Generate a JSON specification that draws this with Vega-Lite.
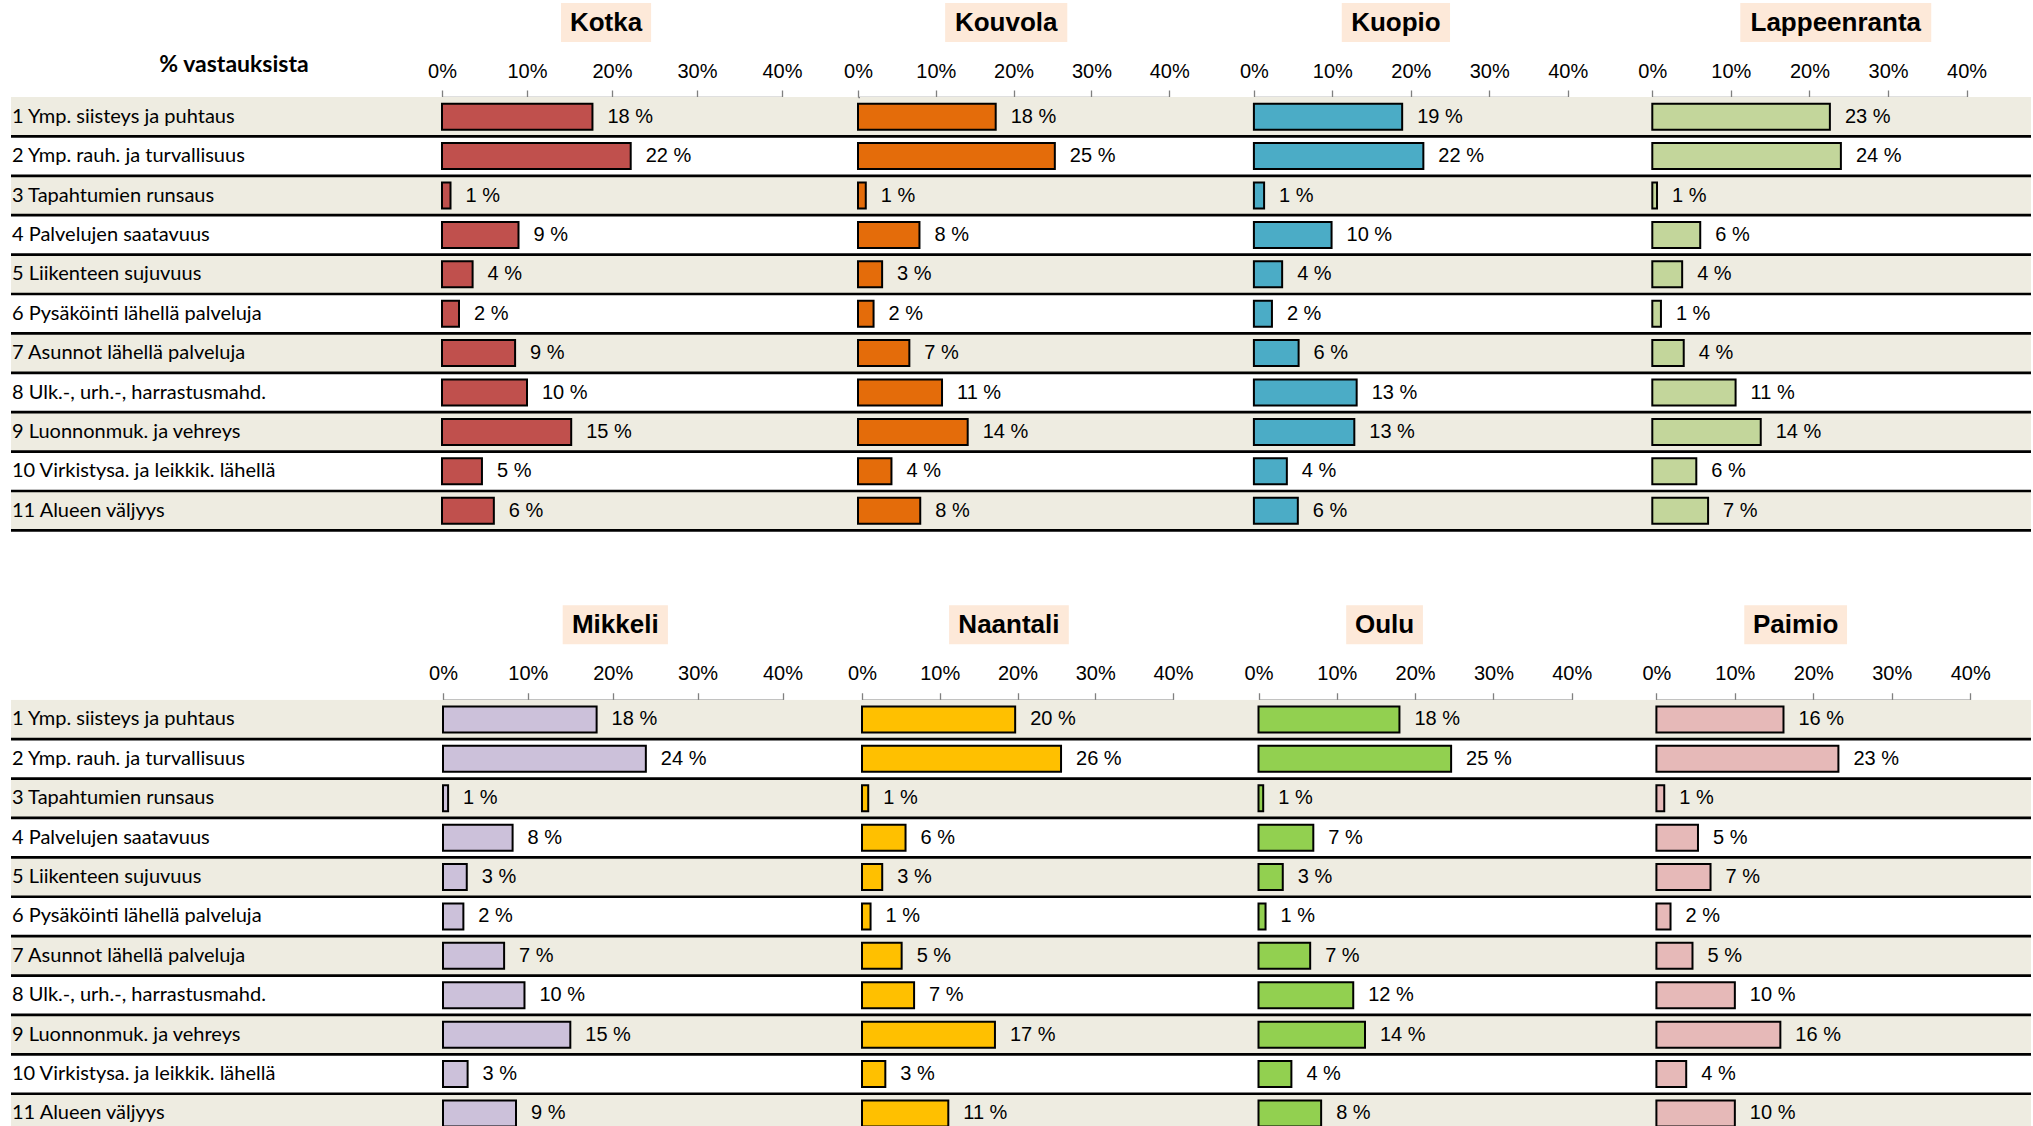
{
 "$schema": "https://vega.github.io/schema/vega-lite/v6.json",
 "background": "white",
 "padding": {"left": 9, "top": 3, "right": 4, "bottom": 0},
 "config": {
  "view": {"stroke": null},
  "axisX": {"labelFont": "Liberation Sans", "labelFontSize": 20, "labelColor": "black", "labelFlush": false, "labelOverlap": false, "labelPadding": 9, "tickSize": 7, "tickColor": "#808080", "domainColor": "#808080", "tickWidth": 1.3, "domainWidth": 1.3, "grid": false, "labelExpr": "datum.value + '%'"}
 },
 "datasets": {
  "rows": [
   {"k": "Kotka", "kohde": "1 Ymp. siisteys ja puhtaus", "v": 17.7},
   {"k": "Kotka", "kohde": "2 Ymp. rauh. ja turvallisuus", "v": 22.2},
   {"k": "Kotka", "kohde": "3 Tapahtumien runsaus", "v": 1.0},
   {"k": "Kotka", "kohde": "4 Palvelujen saatavuus", "v": 9.0},
   {"k": "Kotka", "kohde": "5 Liikenteen sujuvuus", "v": 3.6},
   {"k": "Kotka", "kohde": "6 Pysäköinti lähellä palveluja", "v": 2.0},
   {"k": "Kotka", "kohde": "7 Asunnot lähellä palveluja", "v": 8.6},
   {"k": "Kotka", "kohde": "8 Ulk.-, urh.-, harrastusmahd.", "v": 10.0},
   {"k": "Kotka", "kohde": "9 Luonnonmuk. ja vehreys", "v": 15.2},
   {"k": "Kotka", "kohde": "10 Virkistysa. ja leikkik. lähellä", "v": 4.7},
   {"k": "Kotka", "kohde": "11 Alueen väljyys", "v": 6.1},
   {"k": "Kouvola", "kohde": "1 Ymp. siisteys ja puhtaus", "v": 17.7},
   {"k": "Kouvola", "kohde": "2 Ymp. rauh. ja turvallisuus", "v": 25.3},
   {"k": "Kouvola", "kohde": "3 Tapahtumien runsaus", "v": 1.0},
   {"k": "Kouvola", "kohde": "4 Palvelujen saatavuus", "v": 7.9},
   {"k": "Kouvola", "kohde": "5 Liikenteen sujuvuus", "v": 3.1},
   {"k": "Kouvola", "kohde": "6 Pysäköinti lähellä palveluja", "v": 2.0},
   {"k": "Kouvola", "kohde": "7 Asunnot lähellä palveluja", "v": 6.6},
   {"k": "Kouvola", "kohde": "8 Ulk.-, urh.-, harrastusmahd.", "v": 10.8},
   {"k": "Kouvola", "kohde": "9 Luonnonmuk. ja vehreys", "v": 14.1},
   {"k": "Kouvola", "kohde": "10 Virkistysa. ja leikkik. lähellä", "v": 4.3},
   {"k": "Kouvola", "kohde": "11 Alueen väljyys", "v": 8.0},
   {"k": "Kuopio", "kohde": "1 Ymp. siisteys ja puhtaus", "v": 18.9},
   {"k": "Kuopio", "kohde": "2 Ymp. rauh. ja turvallisuus", "v": 21.6},
   {"k": "Kuopio", "kohde": "3 Tapahtumien runsaus", "v": 1.3},
   {"k": "Kuopio", "kohde": "4 Palvelujen saatavuus", "v": 9.9},
   {"k": "Kuopio", "kohde": "5 Liikenteen sujuvuus", "v": 3.6},
   {"k": "Kuopio", "kohde": "6 Pysäköinti lähellä palveluja", "v": 2.3},
   {"k": "Kuopio", "kohde": "7 Asunnot lähellä palveluja", "v": 5.7},
   {"k": "Kuopio", "kohde": "8 Ulk.-, urh.-, harrastusmahd.", "v": 13.1},
   {"k": "Kuopio", "kohde": "9 Luonnonmuk. ja vehreys", "v": 12.8},
   {"k": "Kuopio", "kohde": "10 Virkistysa. ja leikkik. lähellä", "v": 4.2},
   {"k": "Kuopio", "kohde": "11 Alueen väljyys", "v": 5.6},
   {"k": "Lappeenranta", "kohde": "1 Ymp. siisteys ja puhtaus", "v": 22.6},
   {"k": "Lappeenranta", "kohde": "2 Ymp. rauh. ja turvallisuus", "v": 24.0},
   {"k": "Lappeenranta", "kohde": "3 Tapahtumien runsaus", "v": 0.6},
   {"k": "Lappeenranta", "kohde": "4 Palvelujen saatavuus", "v": 6.1},
   {"k": "Lappeenranta", "kohde": "5 Liikenteen sujuvuus", "v": 3.8},
   {"k": "Lappeenranta", "kohde": "6 Pysäköinti lähellä palveluja", "v": 1.1},
   {"k": "Lappeenranta", "kohde": "7 Asunnot lähellä palveluja", "v": 4.0},
   {"k": "Lappeenranta", "kohde": "8 Ulk.-, urh.-, harrastusmahd.", "v": 10.6},
   {"k": "Lappeenranta", "kohde": "9 Luonnonmuk. ja vehreys", "v": 13.8},
   {"k": "Lappeenranta", "kohde": "10 Virkistysa. ja leikkik. lähellä", "v": 5.6},
   {"k": "Lappeenranta", "kohde": "11 Alueen väljyys", "v": 7.1},
   {"k": "Mikkeli", "kohde": "1 Ymp. siisteys ja puhtaus", "v": 18.1},
   {"k": "Mikkeli", "kohde": "2 Ymp. rauh. ja turvallisuus", "v": 23.9},
   {"k": "Mikkeli", "kohde": "3 Tapahtumien runsaus", "v": 0.6},
   {"k": "Mikkeli", "kohde": "4 Palvelujen saatavuus", "v": 8.2},
   {"k": "Mikkeli", "kohde": "5 Liikenteen sujuvuus", "v": 2.8},
   {"k": "Mikkeli", "kohde": "6 Pysäköinti lähellä palveluja", "v": 2.4},
   {"k": "Mikkeli", "kohde": "7 Asunnot lähellä palveluja", "v": 7.2},
   {"k": "Mikkeli", "kohde": "8 Ulk.-, urh.-, harrastusmahd.", "v": 9.6},
   {"k": "Mikkeli", "kohde": "9 Luonnonmuk. ja vehreys", "v": 15.0},
   {"k": "Mikkeli", "kohde": "10 Virkistysa. ja leikkik. lähellä", "v": 2.9},
   {"k": "Mikkeli", "kohde": "11 Alueen väljyys", "v": 8.6},
   {"k": "Naantali", "kohde": "1 Ymp. siisteys ja puhtaus", "v": 19.7},
   {"k": "Naantali", "kohde": "2 Ymp. rauh. ja turvallisuus", "v": 25.6},
   {"k": "Naantali", "kohde": "3 Tapahtumien runsaus", "v": 0.8},
   {"k": "Naantali", "kohde": "4 Palvelujen saatavuus", "v": 5.6},
   {"k": "Naantali", "kohde": "5 Liikenteen sujuvuus", "v": 2.6},
   {"k": "Naantali", "kohde": "6 Pysäköinti lähellä palveluja", "v": 1.1},
   {"k": "Naantali", "kohde": "7 Asunnot lähellä palveluja", "v": 5.1},
   {"k": "Naantali", "kohde": "8 Ulk.-, urh.-, harrastusmahd.", "v": 6.7},
   {"k": "Naantali", "kohde": "9 Luonnonmuk. ja vehreys", "v": 17.1},
   {"k": "Naantali", "kohde": "10 Virkistysa. ja leikkik. lähellä", "v": 3.0},
   {"k": "Naantali", "kohde": "11 Alueen väljyys", "v": 11.1},
   {"k": "Oulu", "kohde": "1 Ymp. siisteys ja puhtaus", "v": 18.0},
   {"k": "Oulu", "kohde": "2 Ymp. rauh. ja turvallisuus", "v": 24.6},
   {"k": "Oulu", "kohde": "3 Tapahtumien runsaus", "v": 0.6},
   {"k": "Oulu", "kohde": "4 Palvelujen saatavuus", "v": 7.0},
   {"k": "Oulu", "kohde": "5 Liikenteen sujuvuus", "v": 3.1},
   {"k": "Oulu", "kohde": "6 Pysäköinti lähellä palveluja", "v": 0.9},
   {"k": "Oulu", "kohde": "7 Asunnot lähellä palveluja", "v": 6.6},
   {"k": "Oulu", "kohde": "8 Ulk.-, urh.-, harrastusmahd.", "v": 12.1},
   {"k": "Oulu", "kohde": "9 Luonnonmuk. ja vehreys", "v": 13.6},
   {"k": "Oulu", "kohde": "10 Virkistysa. ja leikkik. lähellä", "v": 4.2},
   {"k": "Oulu", "kohde": "11 Alueen väljyys", "v": 8.0},
   {"k": "Paimio", "kohde": "1 Ymp. siisteys ja puhtaus", "v": 16.2},
   {"k": "Paimio", "kohde": "2 Ymp. rauh. ja turvallisuus", "v": 23.2},
   {"k": "Paimio", "kohde": "3 Tapahtumien runsaus", "v": 1.0},
   {"k": "Paimio", "kohde": "4 Palvelujen saatavuus", "v": 5.3},
   {"k": "Paimio", "kohde": "5 Liikenteen sujuvuus", "v": 6.9},
   {"k": "Paimio", "kohde": "6 Pysäköinti lähellä palveluja", "v": 1.8},
   {"k": "Paimio", "kohde": "7 Asunnot lähellä palveluja", "v": 4.6},
   {"k": "Paimio", "kohde": "8 Ulk.-, urh.-, harrastusmahd.", "v": 10.0},
   {"k": "Paimio", "kohde": "9 Luonnonmuk. ja vehreys", "v": 15.8},
   {"k": "Paimio", "kohde": "10 Virkistysa. ja leikkik. lähellä", "v": 3.8},
   {"k": "Paimio", "kohde": "11 Alueen väljyys", "v": 10.0}
  ]
 },
 "vconcat": [
  {
   "columns": 5, "spacing": {"row": 55, "column": 0}, "bounds": "flush", "align": "each",
   "concat": [
    {"width": 341, "height": 39, "data": {"values": [{"t": "% vastauksista"}]}, "mark": {"type": "text", "font": "Lato", "fontSize": 23, "fontWeight": "bold", "fill": "black", "dx": 52.5, "dy": 42.5}, "encoding": {"text": {"field": "t", "type": "nominal"}}},
    {"width": 508, "height": 39, "data": {"values": [{"k": "Kotka"}]}, "layer": [
      {"mark": {"type": "rect", "fill": "#FDE9D9"}, "encoding": {"x": {"datum": 14.0, "type": "quantitative", "scale": {"domain": [0, 40], "range": [90, 430]}, "axis": null}, "x2": {"datum": 24.6}}},
      {"mark": {"type": "text", "font": "Liberation Sans", "fontSize": 26, "fontWeight": "bold", "fill": "black"}, "encoding": {"x": {"datum": 19.3, "type": "quantitative"}, "text": {"field": "k", "type": "nominal"}}}
    ]},
    {"width": 292, "height": 39, "data": {"values": [{"k": "Kouvola"}]}, "layer": [
      {"mark": {"type": "rect", "fill": "#FDE9D9"}, "encoding": {"x": {"datum": 11.2, "type": "quantitative", "scale": {"domain": [0, 40], "range": [-2, 309.2]}, "axis": null}, "x2": {"datum": 26.9}}},
      {"mark": {"type": "text", "font": "Liberation Sans", "fontSize": 26, "fontWeight": "bold", "fill": "black"}, "encoding": {"x": {"datum": 19.05, "type": "quantitative"}, "text": {"field": "k", "type": "nominal"}}}
    ]},
    {"width": 488, "height": 39, "data": {"values": [{"k": "Kuopio"}]}, "layer": [
      {"mark": {"type": "rect", "fill": "#FDE9D9"}, "encoding": {"x": {"datum": 11.2, "type": "quantitative", "scale": {"domain": [0, 40], "range": [101.9, 415.7]}, "axis": null}, "x2": {"datum": 25.0}}},
      {"mark": {"type": "text", "font": "Liberation Sans", "fontSize": 26, "fontWeight": "bold", "fill": "black"}, "encoding": {"x": {"datum": 18.1, "type": "quantitative"}, "text": {"field": "k", "type": "nominal"}}}
    ]},
    {"width": 391, "height": 39, "data": {"values": [{"k": "Lappeenranta"}]}, "layer": [
      {"mark": {"type": "rect", "fill": "#FDE9D9"}, "encoding": {"x": {"datum": 11.2, "type": "quantitative", "scale": {"domain": [0, 40], "range": [12.3, 326.6]}, "axis": null}, "x2": {"datum": 35.5}}},
      {"mark": {"type": "text", "font": "Liberation Sans", "fontSize": 26, "fontWeight": "bold", "fill": "black"}, "encoding": {"x": {"datum": 23.35, "type": "quantitative"}, "text": {"field": "k", "type": "nominal"}}}
    ]},
    {"width": 341, "height": 433.4, "data": {"name": "rows"}, "transform": [{"filter": "datum.k === 'Kotka'"}],
     "encoding": {"y": {"field": "kohde", "type": "nominal", "sort": null, "scale": {"paddingInner": 0, "paddingOuter": 0}, "axis": {"orient": "left", "title": null, "domain": false, "ticks": false, "tickSize": 0, "labelAlign": "left", "labelBaseline": "middle", "labelPadding": -0.5, "labelFont": "Lato", "labelFontSize": 20, "labelColor": "black", "labelLimit": 600, "zindex": 1}}},
     "layer": [
      {"mark": {"type": "rect"}, "encoding": {"color": {"condition": {"test": "parseInt(datum.kohde) % 2 === 1", "value": "#EEECE1"}, "value": "#FFFFFF"}}},
      {"mark": {"type": "rule", "stroke": "black", "strokeWidth": 2.7}, "encoding": {"y": {"field": "kohde", "type": "nominal", "sort": null, "bandPosition": 1}}}
     ]},
    {"width": 508, "height": 433.4, "data": {"name": "rows"}, "transform": [{"filter": "datum.k === 'Kotka'"}],
     "encoding": {"y": {"field": "kohde", "type": "nominal", "sort": null, "scale": {"paddingInner": 0, "paddingOuter": 0}, "axis": null}},
     "layer": [
      {"mark": {"type": "rect"}, "encoding": {"color": {"condition": {"test": "parseInt(datum.kohde) % 2 === 1", "value": "#EEECE1"}, "value": "#FFFFFF"}}},
      {"mark": {"type": "rule", "stroke": "black", "strokeWidth": 2.7}, "encoding": {"y": {"field": "kohde", "type": "nominal", "sort": null, "bandPosition": 1}}},
      {"mark": {"type": "bar", "height": {"band": 0.66}, "fill": "#C0504D", "stroke": "black", "strokeWidth": 2}, "encoding": {"x": {"field": "v", "type": "quantitative", "scale": {"domain": [0, 40], "range": [90, 430]}, "axis": {"orient": "top", "values": [0, 10, 20, 30, 40], "title": null}}}},
      {"mark": {"type": "text", "align": "left", "baseline": "middle", "dx": 15, "font": "Liberation Sans", "fontSize": 20, "fill": "black", "text": {"expr": "format(datum.v, '.0f') + ' %'"}}, "encoding": {"x": {"field": "v", "type": "quantitative"}}}
     ]},
    {"width": 292, "height": 433.4, "data": {"name": "rows"}, "transform": [{"filter": "datum.k === 'Kouvola'"}],
     "encoding": {"y": {"field": "kohde", "type": "nominal", "sort": null, "scale": {"paddingInner": 0, "paddingOuter": 0}, "axis": null}},
     "layer": [
      {"mark": {"type": "rect"}, "encoding": {"color": {"condition": {"test": "parseInt(datum.kohde) % 2 === 1", "value": "#EEECE1"}, "value": "#FFFFFF"}}},
      {"mark": {"type": "rule", "stroke": "black", "strokeWidth": 2.7}, "encoding": {"y": {"field": "kohde", "type": "nominal", "sort": null, "bandPosition": 1}}},
      {"mark": {"type": "bar", "height": {"band": 0.66}, "fill": "#E46C0A", "stroke": "black", "strokeWidth": 2}, "encoding": {"x": {"field": "v", "type": "quantitative", "scale": {"domain": [0, 40], "range": [-2, 309.2]}, "axis": {"orient": "top", "values": [0, 10, 20, 30, 40], "title": null}}}},
      {"mark": {"type": "text", "align": "left", "baseline": "middle", "dx": 15, "font": "Liberation Sans", "fontSize": 20, "fill": "black", "text": {"expr": "format(datum.v, '.0f') + ' %'"}}, "encoding": {"x": {"field": "v", "type": "quantitative"}}}
     ]},
    {"width": 488, "height": 433.4, "data": {"name": "rows"}, "transform": [{"filter": "datum.k === 'Kuopio'"}],
     "encoding": {"y": {"field": "kohde", "type": "nominal", "sort": null, "scale": {"paddingInner": 0, "paddingOuter": 0}, "axis": null}},
     "layer": [
      {"mark": {"type": "rect"}, "encoding": {"color": {"condition": {"test": "parseInt(datum.kohde) % 2 === 1", "value": "#EEECE1"}, "value": "#FFFFFF"}}},
      {"mark": {"type": "rule", "stroke": "black", "strokeWidth": 2.7}, "encoding": {"y": {"field": "kohde", "type": "nominal", "sort": null, "bandPosition": 1}}},
      {"mark": {"type": "bar", "height": {"band": 0.66}, "fill": "#4BACC6", "stroke": "black", "strokeWidth": 2}, "encoding": {"x": {"field": "v", "type": "quantitative", "scale": {"domain": [0, 40], "range": [101.9, 415.7]}, "axis": {"orient": "top", "values": [0, 10, 20, 30, 40], "title": null}}}},
      {"mark": {"type": "text", "align": "left", "baseline": "middle", "dx": 15, "font": "Liberation Sans", "fontSize": 20, "fill": "black", "text": {"expr": "format(datum.v, '.0f') + ' %'"}}, "encoding": {"x": {"field": "v", "type": "quantitative"}}}
     ]},
    {"width": 391, "height": 433.4, "data": {"name": "rows"}, "transform": [{"filter": "datum.k === 'Lappeenranta'"}],
     "encoding": {"y": {"field": "kohde", "type": "nominal", "sort": null, "scale": {"paddingInner": 0, "paddingOuter": 0}, "axis": null}},
     "layer": [
      {"mark": {"type": "rect"}, "encoding": {"color": {"condition": {"test": "parseInt(datum.kohde) % 2 === 1", "value": "#EEECE1"}, "value": "#FFFFFF"}}},
      {"mark": {"type": "rule", "stroke": "black", "strokeWidth": 2.7}, "encoding": {"y": {"field": "kohde", "type": "nominal", "sort": null, "bandPosition": 1}}},
      {"mark": {"type": "bar", "height": {"band": 0.66}, "fill": "#C3D69B", "stroke": "black", "strokeWidth": 2}, "encoding": {"x": {"field": "v", "type": "quantitative", "scale": {"domain": [0, 40], "range": [12.3, 326.6]}, "axis": {"orient": "top", "values": [0, 10, 20, 30, 40], "title": null}}}},
      {"mark": {"type": "text", "align": "left", "baseline": "middle", "dx": 15, "font": "Liberation Sans", "fontSize": 20, "fill": "black", "text": {"expr": "format(datum.v, '.0f') + ' %'"}}, "encoding": {"x": {"field": "v", "type": "quantitative"}}}
     ]}
   ]
  },
  {
   "columns": 5, "spacing": {"row": 55.5, "column": 0}, "bounds": "flush", "align": "each",
   "concat": [
    {"width": 411, "height": 39, "data": {"values": [{"t": ""}]}, "mark": {"type": "text"}, "encoding": {"text": {"field": "t", "type": "nominal"}}},
    {"width": 387, "height": 39, "data": {"values": [{"k": "Mikkeli"}]}, "layer": [
      {"mark": {"type": "rect", "fill": "#FDE9D9"}, "encoding": {"x": {"datum": 14.1, "type": "quantitative", "scale": {"domain": [0, 40], "range": [21, 360.5]}, "axis": null}, "x2": {"datum": 26.5}}},
      {"mark": {"type": "text", "font": "Liberation Sans", "fontSize": 26, "fontWeight": "bold", "fill": "black"}, "encoding": {"x": {"datum": 20.3, "type": "quantitative"}, "text": {"field": "k", "type": "nominal"}}}
    ]},
    {"width": 400, "height": 39, "data": {"values": [{"k": "Naantali"}]}, "layer": [
      {"mark": {"type": "rect", "fill": "#FDE9D9"}, "encoding": {"x": {"datum": 11.2, "type": "quantitative", "scale": {"domain": [0, 40], "range": [53, 364]}, "axis": null}, "x2": {"datum": 26.6}}},
      {"mark": {"type": "text", "font": "Liberation Sans", "fontSize": 26, "fontWeight": "bold", "fill": "black"}, "encoding": {"x": {"datum": 18.9, "type": "quantitative"}, "text": {"field": "k", "type": "nominal"}}}
    ]},
    {"width": 351, "height": 39, "data": {"values": [{"k": "Oulu"}]}, "layer": [
      {"mark": {"type": "rect", "fill": "#FDE9D9"}, "encoding": {"x": {"datum": 11.2, "type": "quantitative", "scale": {"domain": [0, 40], "range": [49.5, 362.7]}, "axis": null}, "x2": {"datum": 21.0}}},
      {"mark": {"type": "text", "font": "Liberation Sans", "fontSize": 26, "fontWeight": "bold", "fill": "black"}, "encoding": {"x": {"datum": 16.1, "type": "quantitative"}, "text": {"field": "k", "type": "nominal"}}}
    ]},
    {"width": 471, "height": 39, "data": {"values": [{"k": "Paimio"}]}, "layer": [
      {"mark": {"type": "rect", "fill": "#FDE9D9"}, "encoding": {"x": {"datum": 11.2, "type": "quantitative", "scale": {"domain": [0, 40], "range": [96.4, 410.2]}, "axis": null}, "x2": {"datum": 24.3}}},
      {"mark": {"type": "text", "font": "Liberation Sans", "fontSize": 26, "fontWeight": "bold", "fill": "black"}, "encoding": {"x": {"datum": 17.75, "type": "quantitative"}, "text": {"field": "k", "type": "nominal"}}}
    ]},
    {"width": 411, "height": 426.5, "data": {"name": "rows"}, "transform": [{"filter": "datum.k === 'Mikkeli'"}],
     "encoding": {"y": {"field": "kohde", "type": "nominal", "sort": null, "scale": {"paddingInner": 0, "paddingOuter": 0, "range": [0, 433.4]}, "axis": {"orient": "left", "title": null, "domain": false, "ticks": false, "tickSize": 0, "labelAlign": "left", "labelBaseline": "middle", "labelPadding": -0.5, "labelFont": "Lato", "labelFontSize": 20, "labelColor": "black", "labelLimit": 600, "zindex": 1}}},
     "layer": [
      {"mark": {"type": "rect", "clip": true}, "encoding": {"color": {"condition": {"test": "parseInt(datum.kohde) % 2 === 1", "value": "#EEECE1"}, "value": "#FFFFFF"}}},
      {"mark": {"type": "rule", "stroke": "black", "strokeWidth": 2.7, "clip": true}, "encoding": {"y": {"field": "kohde", "type": "nominal", "sort": null, "bandPosition": 1}}}
     ]},
    {"width": 387, "height": 426.5, "data": {"name": "rows"}, "transform": [{"filter": "datum.k === 'Mikkeli'"}],
     "encoding": {"y": {"field": "kohde", "type": "nominal", "sort": null, "scale": {"paddingInner": 0, "paddingOuter": 0, "range": [0, 433.4]}, "axis": null}},
     "layer": [
      {"mark": {"type": "rect", "clip": true}, "encoding": {"color": {"condition": {"test": "parseInt(datum.kohde) % 2 === 1", "value": "#EEECE1"}, "value": "#FFFFFF"}}},
      {"mark": {"type": "rule", "stroke": "black", "strokeWidth": 2.7, "clip": true}, "encoding": {"y": {"field": "kohde", "type": "nominal", "sort": null, "bandPosition": 1}}},
      {"mark": {"type": "bar", "height": {"band": 0.66}, "fill": "#CCC1DA", "stroke": "black", "strokeWidth": 2, "clip": true}, "encoding": {"x": {"field": "v", "type": "quantitative", "scale": {"domain": [0, 40], "range": [21, 360.5]}, "axis": {"orient": "top", "values": [0, 10, 20, 30, 40], "title": null}}}},
      {"mark": {"type": "text", "align": "left", "baseline": "middle", "dx": 15, "font": "Liberation Sans", "fontSize": 20, "fill": "black", "clip": true, "text": {"expr": "format(datum.v, '.0f') + ' %'"}}, "encoding": {"x": {"field": "v", "type": "quantitative"}}}
     ]},
    {"width": 400, "height": 426.5, "data": {"name": "rows"}, "transform": [{"filter": "datum.k === 'Naantali'"}],
     "encoding": {"y": {"field": "kohde", "type": "nominal", "sort": null, "scale": {"paddingInner": 0, "paddingOuter": 0, "range": [0, 433.4]}, "axis": null}},
     "layer": [
      {"mark": {"type": "rect", "clip": true}, "encoding": {"color": {"condition": {"test": "parseInt(datum.kohde) % 2 === 1", "value": "#EEECE1"}, "value": "#FFFFFF"}}},
      {"mark": {"type": "rule", "stroke": "black", "strokeWidth": 2.7, "clip": true}, "encoding": {"y": {"field": "kohde", "type": "nominal", "sort": null, "bandPosition": 1}}},
      {"mark": {"type": "bar", "height": {"band": 0.66}, "fill": "#FFC000", "stroke": "black", "strokeWidth": 2, "clip": true}, "encoding": {"x": {"field": "v", "type": "quantitative", "scale": {"domain": [0, 40], "range": [53, 364]}, "axis": {"orient": "top", "values": [0, 10, 20, 30, 40], "title": null}}}},
      {"mark": {"type": "text", "align": "left", "baseline": "middle", "dx": 15, "font": "Liberation Sans", "fontSize": 20, "fill": "black", "clip": true, "text": {"expr": "format(datum.v, '.0f') + ' %'"}}, "encoding": {"x": {"field": "v", "type": "quantitative"}}}
     ]},
    {"width": 351, "height": 426.5, "data": {"name": "rows"}, "transform": [{"filter": "datum.k === 'Oulu'"}],
     "encoding": {"y": {"field": "kohde", "type": "nominal", "sort": null, "scale": {"paddingInner": 0, "paddingOuter": 0, "range": [0, 433.4]}, "axis": null}},
     "layer": [
      {"mark": {"type": "rect", "clip": true}, "encoding": {"color": {"condition": {"test": "parseInt(datum.kohde) % 2 === 1", "value": "#EEECE1"}, "value": "#FFFFFF"}}},
      {"mark": {"type": "rule", "stroke": "black", "strokeWidth": 2.7, "clip": true}, "encoding": {"y": {"field": "kohde", "type": "nominal", "sort": null, "bandPosition": 1}}},
      {"mark": {"type": "bar", "height": {"band": 0.66}, "fill": "#92D050", "stroke": "black", "strokeWidth": 2, "clip": true}, "encoding": {"x": {"field": "v", "type": "quantitative", "scale": {"domain": [0, 40], "range": [49.5, 362.7]}, "axis": {"orient": "top", "values": [0, 10, 20, 30, 40], "title": null}}}},
      {"mark": {"type": "text", "align": "left", "baseline": "middle", "dx": 15, "font": "Liberation Sans", "fontSize": 20, "fill": "black", "clip": true, "text": {"expr": "format(datum.v, '.0f') + ' %'"}}, "encoding": {"x": {"field": "v", "type": "quantitative"}}}
     ]},
    {"width": 471, "height": 426.5, "data": {"name": "rows"}, "transform": [{"filter": "datum.k === 'Paimio'"}],
     "encoding": {"y": {"field": "kohde", "type": "nominal", "sort": null, "scale": {"paddingInner": 0, "paddingOuter": 0, "range": [0, 433.4]}, "axis": null}},
     "layer": [
      {"mark": {"type": "rect", "clip": true}, "encoding": {"color": {"condition": {"test": "parseInt(datum.kohde) % 2 === 1", "value": "#EEECE1"}, "value": "#FFFFFF"}}},
      {"mark": {"type": "rule", "stroke": "black", "strokeWidth": 2.7, "clip": true}, "encoding": {"y": {"field": "kohde", "type": "nominal", "sort": null, "bandPosition": 1}}},
      {"mark": {"type": "bar", "height": {"band": 0.66}, "fill": "#E6B9B8", "stroke": "black", "strokeWidth": 2, "clip": true}, "encoding": {"x": {"field": "v", "type": "quantitative", "scale": {"domain": [0, 40], "range": [96.4, 410.2]}, "axis": {"orient": "top", "values": [0, 10, 20, 30, 40], "title": null}}}},
      {"mark": {"type": "text", "align": "left", "baseline": "middle", "dx": 15, "font": "Liberation Sans", "fontSize": 20, "fill": "black", "clip": true, "text": {"expr": "format(datum.v, '.0f') + ' %'"}}, "encoding": {"x": {"field": "v", "type": "quantitative"}}}
     ]}
   ]
  }
 ],
 "spacing": 73.25,
 "bounds": "full"
}
